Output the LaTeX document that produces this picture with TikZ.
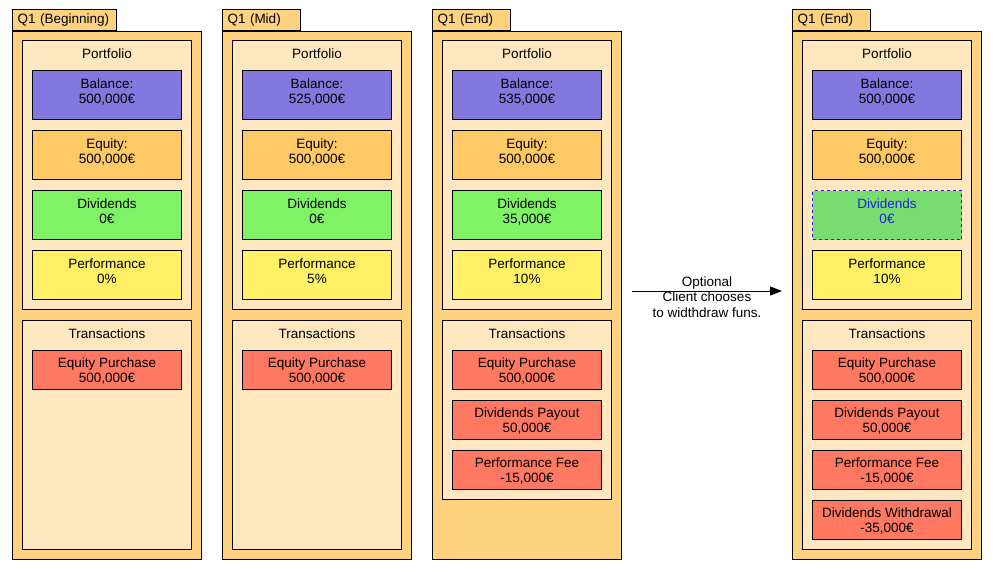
\documentclass[tikz,border=0pt]{standalone}
\usepackage{fontspec}
\setmainfont{Liberation Sans}
\usepackage{tikz}
\usetikzlibrary{arrows.meta,positioning}
\definecolor{frameC}{HTML}{FFD27F}
\definecolor{innerC}{HTML}{FFE8BF}
\definecolor{balC}{HTML}{8378DE}
\definecolor{eqC}{HTML}{FFC966}
\definecolor{divC}{HTML}{80F266}
\definecolor{divpC}{HTML}{77DD6F}
\definecolor{perfC}{HTML}{FFF066}
\definecolor{trC}{HTML}{FF7861}
\definecolor{dashC}{HTML}{1F1FE6}
\tikzstyle{tab}     = [draw,fill=frameC,line width=1pt,anchor=south west,minimum height=21pt,inner xsep=5pt,inner ysep=0pt,align=left]
\tikzstyle{column}  = [draw,fill=frameC,line width=1pt,anchor=north west,minimum width=189pt,minimum height=528pt,inner sep=0pt]
\tikzstyle{group}   = [draw,fill=innerC,line width=1pt,anchor=north west,minimum width=169pt,inner sep=0pt]
\tikzstyle{item}    = [draw,line width=1pt,anchor=north west,minimum width=149pt,minimum height=49pt,inner sep=0pt,align=center,text depth=8pt]
\tikzstyle{titem}   = [item,fill=trC,minimum height=39pt,text depth=-3pt]
\tikzstyle{removed} = [item,fill=divpC,draw=dashC,dashed,text=dashC]
\tikzstyle{title}   = [anchor=base,yshift=-18pt]

\begin{document}
\begin{tikzpicture}[x=1pt,y=-1pt,font=\fontsize{13.5}{15.7}\selectfont]
  \useasboundingbox (0,0) rectangle (997,573);

  % Q1 beginning
  \node (col1)[column] at (12,31) {};
  \node (tab1)[tab,text width=94pt] at (12,31) {Q1 (Beginning)};
  \node (port1)[group,minimum height=269pt,label={[title]north:Portfolio}] at (22,40) {};
  \node (bal1)[item,fill=balC] at (32,70) {Balance:\\500,000€};
  \node (eq1)[item,fill=eqC] at (32,130) {Equity:\\500,000€};
  \node (div1)[item,fill=divC] at (32,190) {Dividends\\0€};
  \node (perf1)[item,fill=perfC] at (32,250) {Performance\\0\%};
  \node (tr1)[group,minimum height=229pt,label={[title]north:Transactions}] at (22,320) {};
  \node (ep1)[titem] at (32,350) {Equity Purchase\\500,000€};

  % Q1 mid
  \begin{scope}[xshift=210pt]
  \node (col2)[column] at (12,31) {};
  \node (tab2)[tab,text width=68pt] at (12,31) {Q1 (Mid)};
  \node (port2)[group,minimum height=269pt,label={[title]north:Portfolio}] at (22,40) {};
  \node (bal2)[item,fill=balC] at (32,70) {Balance:\\525,000€};
  \node (eq2)[item,fill=eqC] at (32,130) {Equity:\\500,000€};
  \node (div2)[item,fill=divC] at (32,190) {Dividends\\0€};
  \node (perf2)[item,fill=perfC] at (32,250) {Performance\\5\%};
  \node (tr2)[group,minimum height=229pt,label={[title]north:Transactions}] at (22,320) {};
  \node (ep2)[titem] at (32,350) {Equity Purchase\\500,000€};
  \end{scope}

  % Q1 end
  \begin{scope}[xshift=420pt]
  \node (col3)[column] at (12,31) {};
  \node (tab3)[tab,text width=68pt] at (12,31) {Q1 (End)};
  \node (port3)[group,minimum height=269pt,label={[title]north:Portfolio}] at (22,40) {};
  \node (bal3)[item,fill=balC] at (32,70) {Balance:\\535,000€};
  \node (eq3)[item,fill=eqC] at (32,130) {Equity:\\500,000€};
  \node (div3)[item,fill=divC] at (32,190) {Dividends\\35,000€};
  \node (perf3)[item,fill=perfC] at (32,250) {Performance\\10\%};
  \node (tr3)[group,minimum height=179pt,label={[title]north:Transactions}] at (22,320) {};
  \node (ep3)[titem] at (32,350) {Equity Purchase\\500,000€};
  \node (dp3)[titem] at (32,400) {Dividends Payout\\50,000€};
  \node (pf3)[titem] at (32,450) {Performance Fee\\-15,000€};
  \end{scope}

  % Q1 end, after withdrawal
  \begin{scope}[xshift=780pt]
  \node (col4)[column] at (12,31) {};
  \node (tab4)[tab,text width=68pt] at (12,31) {Q1 (End)};
  \node (port4)[group,minimum height=269pt,label={[title]north:Portfolio}] at (22,40) {};
  \node (bal4)[item,fill=balC] at (32,70) {Balance:\\500,000€};
  \node (eq4)[item,fill=eqC] at (32,130) {Equity:\\500,000€};
  \node (div4)[removed] at (32,190) {Dividends\\0€};
  \node (perf4)[item,fill=perfC] at (32,250) {Performance\\10\%};
  \node (tr4)[group,minimum height=229pt,label={[title]north:Transactions}] at (22,320) {};
  \node (ep4)[titem] at (32,350) {Equity Purchase\\500,000€};
  \node (dp4)[titem] at (32,400) {Dividends Payout\\50,000€};
  \node (pf4)[titem] at (32,450) {Performance Fee\\-15,000€};
  \node (dw4)[titem] at (32,500) {Dividends Withdrawal\\-35,000€};
  \end{scope}

  \coordinate (from) at (632,291);
  \coordinate (to) at (col4.west |- from);
  \draw[line width=1pt,-{Triangle[length=12pt,width=9pt]}] (from) -- ([xshift=-10pt]to)
    node[midway,yshift=-6pt,align=center] {Optional\\Client chooses\\to widthdraw funs.};
\end{tikzpicture}
\end{document}
